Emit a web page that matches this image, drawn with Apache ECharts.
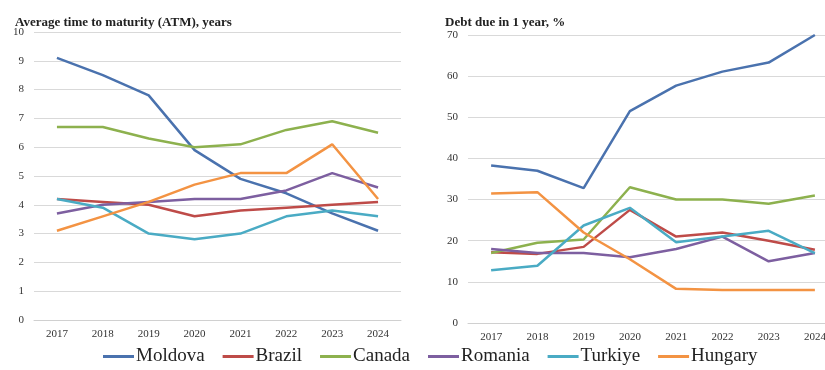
<!DOCTYPE html>
<html><head><meta charset="utf-8">
<script src="https://cdn.jsdelivr.net/npm/echarts@6/dist/echarts.min.js"></script>
<style>html,body{margin:0;padding:0;background:#fff}#c{width:825px;height:370px}</style>
</head><body><div id="c"></div>
<script>
const years = ['2017','2018','2019','2020','2021','2022','2023','2024'];
const names = ['Moldova','Brazil','Canada','Romania','Turkiye','Hungary'];
const colors = ['#4A72AE','#BE4B48','#8DB14E','#7D5FA0','#4AABC4','#F39343'];
// Average time to maturity (ATM), years
const atmMoldova = [9.1, 8.5, 7.8, 5.9, 4.9, 4.4, 3.7, 3.1];
const atmBrazil  = [4.2, 4.1, 4.0, 3.6, 3.8, 3.9, 4.0, 4.1];
const atmCanada  = [6.7, 6.7, 6.3, 6.0, 6.1, 6.6, 6.9, 6.5];
const atmRomania = [3.7, 4.0, 4.1, 4.2, 4.2, 4.5, 5.1, 4.6];
const atmTurkiye = [4.2, 3.9, 3.0, 2.8, 3.0, 3.6, 3.8, 3.6];
const atmHungary = [3.1, 3.6, 4.1, 4.7, 5.1, 5.1, 6.1, 4.2];
// Debt due in 1 year, %
const dueMoldova = [38.3, 37.0, 32.8, 51.5, 57.7, 61.1, 63.3, 70.0];
const dueBrazil  = [17.2, 16.8, 18.5, 27.5, 21.0, 22.0, 20.0, 17.8];
const dueCanada  = [17.0, 19.5, 20.3, 33.0, 30.0, 30.0, 29.0, 31.0];
const dueRomania = [18.0, 17.0, 17.0, 16.0, 18.0, 21.0, 15.0, 17.0];
const dueTurkiye = [12.8, 13.9, 23.7, 28.0, 19.6, 21.0, 22.4, 17.0];
const dueHungary = [31.5, 31.8, 22.0, 15.5, 8.3, 8.0, 8.0, 8.0];

const atm = [atmMoldova, atmBrazil, atmCanada, atmRomania, atmTurkiye, atmHungary];
const due = [dueMoldova, dueBrazil, dueCanada, dueRomania, dueTurkiye, dueHungary];

const serif = 'Liberation Serif';
const chart = echarts.init(document.getElementById('c'));
const xAx = (gi) => ({
  type:'category', gridIndex:gi, data:years, boundaryGap:true,
  axisLine:{lineStyle:{color:'#d0d0d0'}}, axisTick:{show:false},
  axisLabel:{color:'#333', fontFamily:serif, fontSize:11, margin:9}
});
const yAx = (gi, max) => ({
  type:'value', gridIndex:gi, min:0, max:max, interval: max===10?1:10,
  axisLine:{show:false}, axisTick:{show:false},
  splitLine:{lineStyle:{color:'#d9d9d9', width:1}},
  axisLabel:{color:'#333', fontFamily:serif, fontSize:11, margin:10}
});
const series = [];
names.forEach((n,i)=>{
  series.push({name:n, type:'line', xAxisIndex:0, yAxisIndex:0, data:atm[i], showSymbol:false, symbol:'none',
    lineStyle:{width:2.5, color:colors[i]}, itemStyle:{color:colors[i]}});
  series.push({name:n, type:'line', xAxisIndex:1, yAxisIndex:1, data:due[i], showSymbol:false, symbol:'none',
    lineStyle:{width:2.5, color:colors[i]}, itemStyle:{color:colors[i]}});
});
chart.setOption({
  animation:false,
  color: colors,
  title:[
    {text:'Average time to maturity (ATM), years', left:10, top:11, textStyle:{fontFamily:serif, fontWeight:'bold', fontSize:13, color:'#222'}},
    {text:'Debt due in 1 year, %', left:440, top:11, textStyle:{fontFamily:serif, fontWeight:'bold', fontSize:13, color:'#222'}}
  ],
  grid:[
    {left:34, top:32, width:367, height:288, outerBoundsMode:'none', containLabel:false},
    {left:468, top:35, width:370, height:288, outerBoundsMode:'none', containLabel:false}
  ],
  xAxis:[xAx(0), xAx(1)],
  yAxis:[yAx(0,10), yAx(1,70)],
  legend:{
    data:names, left:98, top:342, itemWidth:31, itemHeight:3, itemGap:18, icon:'rect',
    textStyle:{fontFamily:serif, fontSize:19, color:'#222', padding:[0,0,0,-3]}
  },
  series: series
});
</script></body></html>
